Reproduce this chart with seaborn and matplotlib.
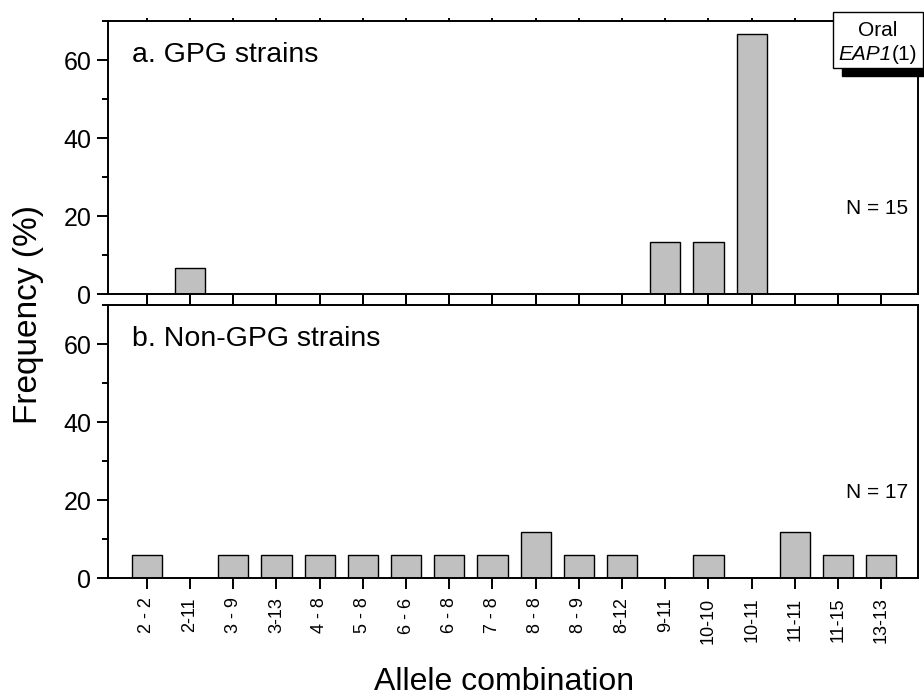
import matplotlib
matplotlib.use("Agg")
import matplotlib.pyplot as plt
from matplotlib.patches import Rectangle
from matplotlib.ticker import MultipleLocator
from matplotlib.offsetbox import HPacker, TextArea, AnchoredOffsetbox
import seaborn as sns
import pandas as pd

# Allele combinations (x categories)
combos = ["2 - 2", "2-11", "3 - 9", "3-13", "4 - 8", "5 - 8", "6 - 6", "6 - 8",
          "7 - 8", "8 - 8", "8 - 9", "8-12", "9-11", "10-10", "10-11", "11-11",
          "11-15", "13-13"]

# Frequencies (%) per combination
gpg_freq = [0, 6.67, 0, 0, 0, 0, 0, 0, 0, 0, 0, 0, 13.33, 13.33, 66.67, 0, 0, 0]
nongpg_freq = [5.88, 0, 5.88, 5.88, 5.88, 5.88, 5.88, 5.88, 5.88, 11.76, 5.88,
               5.88, 0, 5.88, 0, 11.76, 5.88, 5.88]

panel_titles = ["a. GPG strains", "b. Non-GPG strains"]
panel_n = ["N = 15", "N = 17"]

sns.set_theme(style="ticks")
plt.rcParams["font.family"] = ["Liberation Sans", "DejaVu Sans"]
plt.rcParams["text.color"] = "black"

fig = plt.figure(figsize=(9.24, 6.98), dpi=100)
W, H = 924, 698


def px_axes(left, top, right, bottom):
    return fig.add_axes([left / W, 1 - bottom / H, (right - left) / W, (bottom - top) / H])


ax_top = px_axes(108, 21, 918, 294)
ax_bot = px_axes(108, 305, 918, 578)

lw = 1.4
for ax, freq, title, ntext in zip([ax_top, ax_bot], [gpg_freq, nongpg_freq],
                                   panel_titles, panel_n):
    df = pd.DataFrame({"combo": combos, "freq": freq})
    sns.barplot(data=df, x="combo", y="freq", order=combos, color="#c0c0c0",
                saturation=1, edgecolor="black", linewidth=1.0, width=0.7, ax=ax)
    ax.set_xlim(-0.9, len(combos) - 0.15)
    ax.set_ylim(0, 70)
    ax.yaxis.set_major_locator(MultipleLocator(20))
    ax.yaxis.set_minor_locator(MultipleLocator(10))
    for s in ax.spines.values():
        s.set_visible(True)
        s.set_linewidth(lw)
        s.set_color("black")
    ax.tick_params(axis="y", which="major", direction="out", length=8, width=lw,
                   labelsize=18, pad=4, colors="black")
    ax.tick_params(axis="y", which="minor", direction="out", length=4, width=lw,
                   colors="black")
    ax.tick_params(axis="x", which="major", direction="out", length=8, width=lw,
                   top=True, colors="black")
    ax.set_xlabel("")
    ax.set_ylabel("")
    ax.text(0.03, 0.875, title, transform=ax.transAxes, fontsize=20.5,
            ha="left", va="center", color="black")
    ax.text(0.988, 22, ntext, transform=ax.get_yaxis_transform(), fontsize=15,
            ha="right", va="center", color="black")

# Top-spine ticks are short stubs
for ax in [ax_top, ax_bot]:
    for t in ax.xaxis.get_major_ticks():
        t.tick2line.set_markersize(2)

ax_top.tick_params(axis="x", labelbottom=False)
ax_bot.set_xticks(range(len(combos)))
ax_bot.set_xticklabels(combos, rotation=90, fontsize=13, va="top", ha="center")
ax_bot.tick_params(axis="x", pad=6)

fig.text(0.031, 0.549, "Frequency (%)", rotation=90, fontsize=24,
         ha="center", va="center", color="black")
fig.text(0.545, 0.023, "Allele combination", fontsize=23,
         ha="center", va="center", color="black")

# Tag with drop shadow in the upper right
bx0, by0, bx1, by1 = 833, 12, 923, 68
shadow = Rectangle(((bx0 + 9) / W, 1 - (by1 + 8) / H), (bx1 - bx0) / W, (by1 - by0) / H,
                   transform=fig.transFigure, facecolor="black", edgecolor="black",
                   zorder=10)
box = Rectangle((bx0 / W, 1 - by1 / H), (bx1 - bx0) / W, (by1 - by0) / H,
                transform=fig.transFigure, facecolor="white", edgecolor="black",
                linewidth=1.0, zorder=11)
fig.add_artist(shadow)
fig.add_artist(box)
cx = (bx0 + bx1) / 2 / W
fig.text(cx, 1 - 30 / H, "Oral", fontsize=15, ha="center", va="center",
         color="black", zorder=12)

gene = HPacker(children=[TextArea("EAP1", textprops=dict(fontsize=15, fontstyle="italic",
                                                         color="black")),
                         TextArea("(1)", textprops=dict(fontsize=15, color="black"))],
               align="baseline", pad=0, sep=0)
tag = AnchoredOffsetbox(loc="center", child=gene, pad=0, borderpad=0, frameon=False,
                        bbox_to_anchor=(cx, 1 - 55 / H), bbox_transform=fig.transFigure)
tag.set_zorder(12)
fig.add_artist(tag)

fig.savefig("out.png", dpi=100)
